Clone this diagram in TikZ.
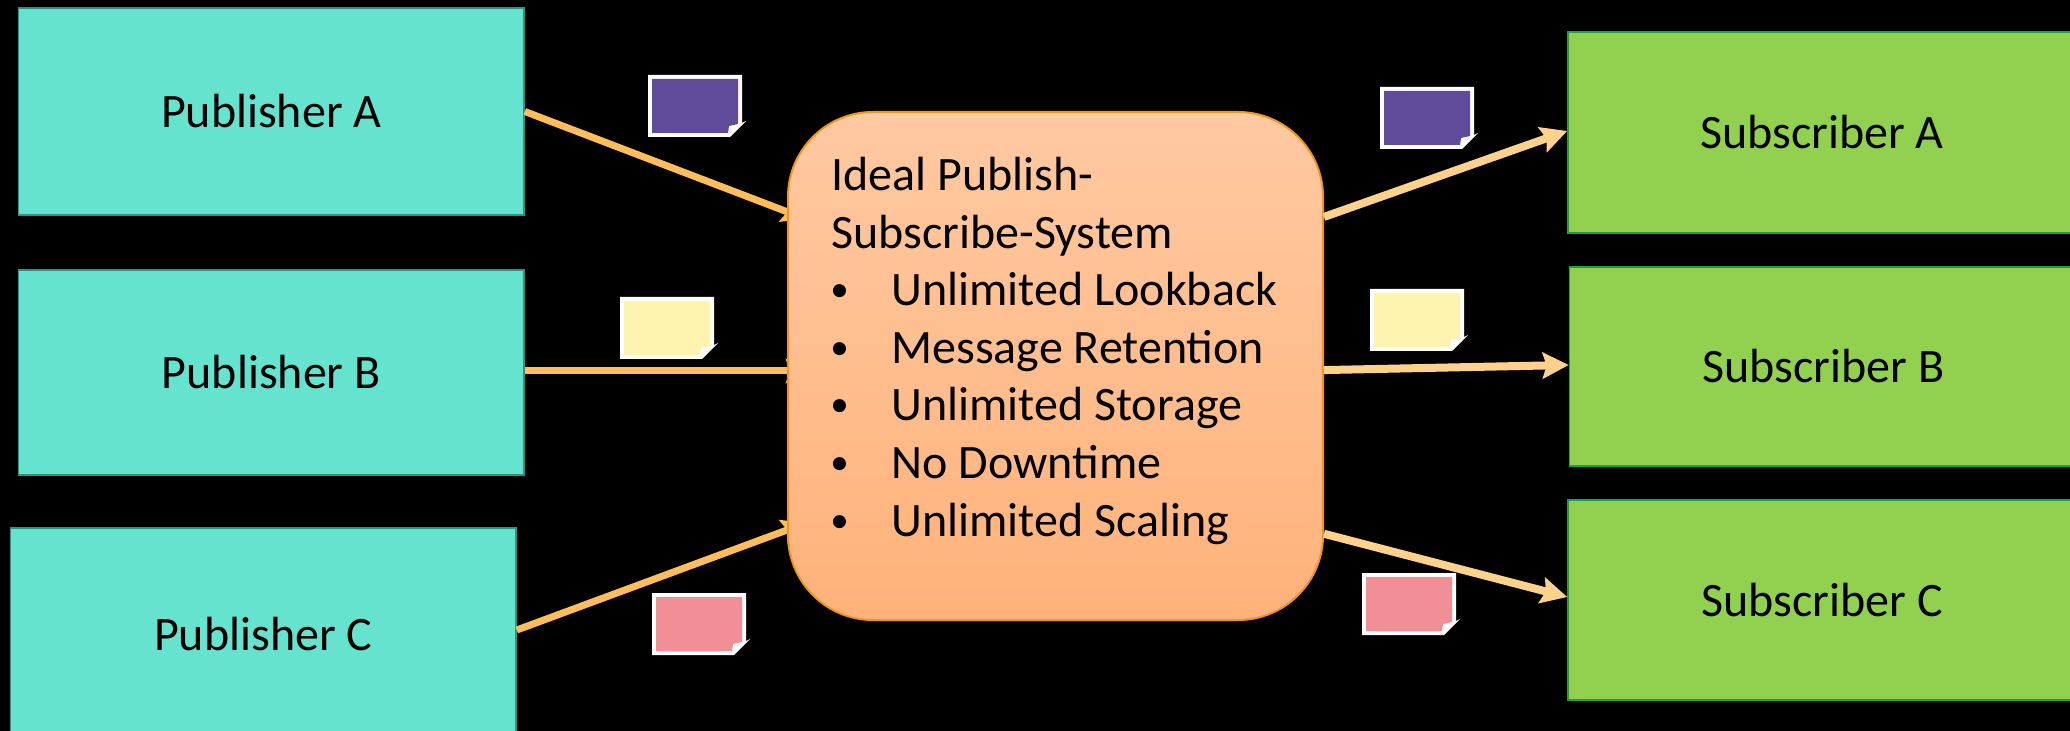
\documentclass[tikz,border=0pt]{standalone}
\usepackage{fontspec}
\setmainfont{Carlito}
\usetikzlibrary{arrows.meta,calc}

\definecolor{pubfill}{RGB}{102,227,206}
\definecolor{publine}{RGB}{40,150,130}
\definecolor{subfill}{RGB}{146,208,80}
\definecolor{subline}{RGB}{30,160,70}
\definecolor{hubtop}{RGB}{255,201,162}
\definecolor{hubbot}{RGB}{255,178,122}
\definecolor{hubline}{RGB}{240,150,30}
\definecolor{inflow}{RGB}{255,190,90}
\definecolor{outflow}{RGB}{255,210,140}
\definecolor{msgpurple}{RGB}{96,74,154}
\definecolor{msgyellow}{RGB}{255,243,176}
\definecolor{msgpink}{RGB}{242,142,150}

\tikzset{
  labelfont/.style={font=\fontsize{24}{28.75}\selectfont},
  box/.style={rectangle, inner sep=0pt, line width=0.8pt, labelfont, text=black},
  pub/.style={box, fill=pubfill, draw=publine, minimum width=252.75pt},
  sub/.style={box, fill=subfill, draw=subline, minimum width=254pt},
  hubbox/.style={rectangle, rounded corners=42.5pt, top color=hubtop, bottom color=hubbot,
    draw=hubline, line width=1pt, minimum width=267.5pt, minimum height=254pt, inner sep=0pt},
  listtext/.style={anchor=base west, inner sep=0pt, labelfont, text=black},
  bulletmark/.style={anchor=base west, inner sep=0pt, text=black,
    font=\fontsize{18.5}{20}\selectfont},
  feed/.style={line width=3.5pt, draw=inflow, -{Stealth[length=12pt,width=12pt,inset=2pt]}},
  deliver/.style={line width=4pt, draw=outflow, -{Stealth[length=13pt,width=13pt,inset=2pt]}},
  pics/message/.style={code={
    \fill[white] (0,0) -- (94,0) -- (94,48) -- (98,46) -- (82,62) -- (0,62) -- cycle;
    \fill[#1] (4,4) -- (90,4) -- (90,49) -- (81,51) -- (80,58) -- (4,58) -- cycle;
  }}
}

\begin{document}
\begin{tikzpicture}[x=0.5pt,y=-0.5pt]
  \useasboundingbox (0,0) rectangle (2070,731);
  \clip (0,0) rectangle (2070,731);
  \fill[black] (0,0) rectangle (2070,731);

  % publishers
  \node[pub, minimum height=103.5pt] (pubA) at (271.25,111.5) {Publisher A};
  \node[pub, minimum height=102.5pt] (pubB) at (271.25,372.5) {Publisher B};
  \node[pub, minimum height=106pt]   (pubC) at (263.25,634)   {Publisher C};

  % subscribers
  \node[sub, minimum height=100.5pt] (subA) at (1822,132.5) {Subscriber A};
  \node[sub, minimum height=99.5pt]  (subB) at (1823.5,366.5) {Subscriber B};
  \node[sub, minimum height=100pt]   (subC) at (1822,600) {Subscriber C};

  % end points of the incoming feeds, tucked behind the hub
  \coordinate (inA) at (806,219);
  \coordinate (inB) at (810,371);
  \coordinate (inC) at (806,523);

  \draw[feed] (pubA.east) -- (inA);
  \draw[feed] (pubB.east |- 0,371) -- (inB);
  \draw[feed] (pubC.east |- 0,630) -- (inC);

  % the broker
  \node[hubbox] (hub) at (1055.5,366) {};

  \node[listtext] (t1) at (831,191) {Ideal Publish-};
  \node[listtext] (t2) at (831,248.5) {Subscribe-System};
  \foreach \y/\txt [count=\i] in {306/Unlimited Lookback, 363.5/Message Retention,
      421/Unlimited Storage, 478.5/No Downtime, 536/Unlimited Scaling}{
    \node[bulletmark] (b\i) at (830,\y-4) {•};
    \node[listtext] (f\i) at (891,\y) {\txt};
  }

  % outgoing deliveries
  \coordinate (outA) at ($(hub.north east)!0.2077!(hub.south east)$);
  \coordinate (outB) at ($(hub.north east)!0.508!(hub.south east)$);
  \coordinate (outC) at ($(hub.north east)!0.829!(hub.south east)$);

  \draw[deliver] (outA) -- (subA.west |- 0,131);
  \draw[deliver] (outB) -- (subB.west |- 0,365);
  \draw[deliver] (outC) -- (subC.west |- 0,597);

  % messages in flight
  \pic at (648,75)   {message=msgpurple};
  \pic at (620,297)  {message=msgyellow};
  \pic at (652,593)  {message=msgpink};
  \pic at (1380,87)  {message=msgpurple};
  \pic at (1370,289) {message=msgyellow};
  \pic at (1362,573) {message=msgpink};
\end{tikzpicture}
\end{document}
